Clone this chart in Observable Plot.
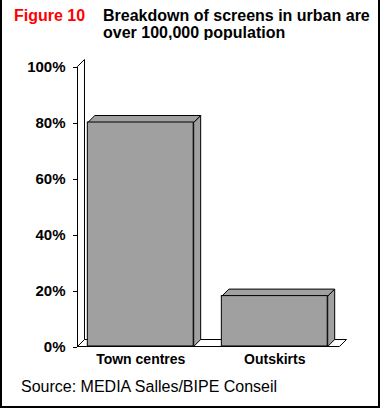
<!DOCTYPE html>
<html>
<head>
<meta charset="utf-8">
<script src="https://cdn.jsdelivr.net/npm/d3@7"></script>
<script src="https://cdn.jsdelivr.net/npm/@observablehq/plot@0.6"></script>
<style>
  html, body { margin: 0; padding: 0; background: white; }
  #frame { position: relative; width: 380px; height: 408px; background: white; overflow: hidden;
           font-family: Arial, "Liberation Sans", sans-serif; color: black; }
  #border { position: absolute; left: 0; top: 0; width: 380px; height: 408px; box-sizing: border-box;
            border-left: 2px solid black; border-right: 2px solid black; border-bottom: 2px solid black; pointer-events: none; }
  #fig { position: absolute; left: 14px; top: 7px; font-size: 16px; line-height: 17px; font-weight: bold; color: #ff0000; }
  #title { position: absolute; left: 103px; top: 7px; font-size: 16px; line-height: 17px; font-weight: bold; }
  #chart { position: absolute; left: 0; top: 40px; }
  #source { position: absolute; left: 21px; top: 378px; font-size: 16px; line-height: 18px; }
</style>
</head>
<body>
<div id="frame">
  <div id="fig">Figure 10</div>
  <div id="title">Breakdown of screens in urban are<br>over 100,000 population</div>
  <div id="chart"></div>
  <div id="source">Source: MEDIA Salles/BIPE Conseil</div>
  <div id="border"></div>
</div>
<script>
const categories = ["Town centres", "Outskirts"];
const shares = [0.80, 0.18];
const yTicks = [0, 0.2, 0.4, 0.6, 0.8, 1];

// layout constants (in x/y data units)
const SLOT0 = 0.077, BARW = 0.79, XEND = 1.955, DX = 0.0522, DY = 0.025;

const bars = categories.map((c, i) => ({category: c, value: shares[i], x1: i + SLOT0, x2: i + SLOT0 + BARW}));
const poly = (id, pts) => pts.concat([pts[0]]).map(([x, y]) => ({id, x, y}));
const walls = [
  ...poly("wall", [[0, 0], [0, 1], [DX, 1 + DY], [DX, DY]]),
  ...poly("floor", [[0, 0], [XEND, 0], [XEND + DX, DY], [DX, DY]])
];
const faces = bars.flatMap(b => [
  ...poly(b.category + "-side", [[b.x2, 0], [b.x2, b.value], [b.x2 + DX, b.value + DY], [b.x2 + DX, DY]]),
  ...poly(b.category + "-top", [[b.x1, b.value], [b.x2, b.value], [b.x2 + DX, b.value + DY], [b.x1 + DX, b.value + DY]])
]);

const chart = Plot.plot({
  width: 380, height: 330,
  marginLeft: 77, marginRight: 41, marginTop: 26, marginBottom: 24,
  x: {domain: [0, XEND], axis: null, label: null},
  y: {domain: [0, 1], label: null},
  style: {fontFamily: "Arial, 'Liberation Sans', sans-serif", background: "white", color: "black", overflow: "visible"},
  marks: [
    Plot.line(walls, {x: "x", y: "y", z: "id", fill: "white", stroke: "black", strokeWidth: 1, strokeLinejoin: "miter"}),
    Plot.line(faces, {x: "x", y: "y", z: "id", fill: "#a0a0a0", stroke: "black", strokeWidth: 1, strokeLinejoin: "miter"}),
    Plot.rectY(bars, {x1: "x1", x2: "x2", y: "value", fill: "#a0a0a0", stroke: "black", strokeWidth: 1}),
    Plot.axisY(yTicks, {tickSize: 4, tickPadding: 8, tickFormat: d3.format(".0%"), fontSize: 15, fontWeight: "bold", dy: 1, label: null}),
    Plot.text(bars, {x: d => (d.x1 + d.x2) / 2, y: 0, text: "category", dy: 13, fontSize: 14, fontWeight: "bold"})
  ]
});
document.getElementById("chart").appendChild(chart);
</script>
</body>
</html>
